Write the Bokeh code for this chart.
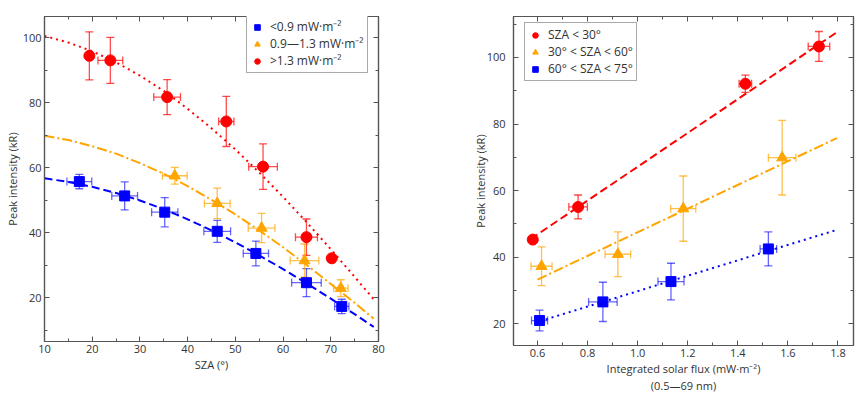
from bokeh.plotting import figure
from bokeh.models import (Range1d, FixedTicker, LinearAxis, ColumnDataSource, Whisker,
                          TeeHead, Legend, LegendItem, CustomJSTickFormatter, Title)
from bokeh.layouts import row
from bokeh.embed import file_html
from bokeh.resources import INLINE

# ---------------- data: left panel (SZA vs peak intensity) ----------------
sza_low = [17.3, 26.8, 35.2, 46.2, 54.3, 64.9, 72.3]
int_low = [55.7, 51.3, 46.3, 40.4, 33.6, 24.6, 17.3]
sza_err_low = [2.6, 2.7, 2.75, 2.8, 2.65, 3.1, 1.5]
int_err_low = [2.2, 4.3, 4.5, 3.4, 3.8, 4.3, 2.2]

sza_mid = [37.3, 46.2, 55.5, 64.5, 72.1]
int_mid = [57.5, 49.0, 41.4, 31.4, 22.9]
sza_err_mid = [2.6, 2.7, 2.8, 3.0, 1.5]
int_err_mid = [2.6, 4.7, 4.5, 5.1, 2.6]

sza_high = [19.4, 23.8, 35.7, 48.1, 55.8, 64.9, 70.2]
int_high = [94.4, 93.0, 81.7, 74.2, 60.3, 38.6, 32.1]
sza_err_high = [0.0, 2.6, 2.8, 1.6, 3.0, 2.3, 0.0]
int_err_high = [7.4, 7.1, 5.4, 7.7, 7.0, 5.6, 0.0]

fit_sza = [10, 15, 20, 25, 30, 35, 40, 45, 50, 55, 60, 65, 70, 75, 79]
fit_low = [56.7, 55.6, 54.1, 52.2, 49.9, 47.2, 44.1, 40.7, 37.0, 33.0, 28.8, 24.3, 19.7, 14.9, 11.0]
fit_mid = [69.8, 68.5, 66.6, 64.3, 61.4, 58.1, 54.3, 50.1, 45.6, 40.7, 35.5, 30.0, 24.2, 18.4, 13.5]
fit_high = [100.5, 98.5, 95.8, 92.4, 88.3, 83.6, 78.1, 72.1, 65.6, 58.5, 51.0, 43.1, 34.9, 26.4, 19.5]

left_labels = ["<0.9 mW\u00b7m\u207b\u00b2", "0.9\u20141.3 mW\u00b7m\u207b\u00b2", ">1.3 mW\u00b7m\u207b\u00b2"]
left_xticks = [10, 20, 30, 40, 50, 60, 70, 80]
left_xminor = [15, 25, 35, 45, 55, 65, 75]
left_yticks = [20, 40, 60, 80, 100]
left_yminor = [10, 30, 50, 70, 90]

# ---------------- data: right panel (solar flux vs peak intensity) ----------------
flux_s30 = [0.581, 0.762, 1.430, 1.724]
int_s30 = [45.3, 55.1, 92.1, 103.3]
flux_err_s30 = [0.0, 0.037, 0.025, 0.043]
int_err_s30 = [0.0, 3.6, 2.6, 4.5]

flux_s60 = [0.616, 0.921, 1.182, 1.577]
int_s60 = [37.3, 40.9, 54.6, 69.9]
flux_err_s60 = [0.042, 0.051, 0.050, 0.055]
int_err_s60 = [5.8, 6.7, 9.8, 11.2]

flux_s75 = [0.608, 0.861, 1.133, 1.522]
int_s75 = [21.0, 26.6, 32.7, 42.5]
flux_err_s75 = [0.032, 0.057, 0.052, 0.033]
int_err_s75 = [3.1, 5.9, 5.5, 5.1]

fit_s30_x = [0.573, 1.80]
fit_s30_y = [45.5, 107.8]
fit_s60_x = [0.60, 1.796]
fit_s60_y = [33.3, 75.8]
fit_s75_x = [0.61, 1.79]
fit_s75_y = [20.8, 48.1]

right_labels = ["SZA < 30\u00b0", "30\u00b0 < SZA < 60\u00b0", "60\u00b0 < SZA < 75\u00b0"]
right_xlabel = "Integrated solar flux (mW\u00b7m\u207b\u00b2)"
right_xlabel2 = "(0.5\u201469 nm)"
right_xticks = [0.6, 0.8, 1.0, 1.2, 1.4, 1.6, 1.8]
right_xminor = [0.5, 0.7, 0.9, 1.1, 1.3, 1.5, 1.7]
right_yticks = [20, 40, 60, 80, 100]
right_yminor = [10, 30, 50, 70, 90, 110]

BLUE = "#0000ff"
ORANGE = "#ffa500"
RED = "#ff0000"
FONT = "Open Sans"
TXT = "#333333"
FRAME = "#555555"


def style_axis(ax, show_labels=True):
    ax.axis_line_color = FRAME
    ax.axis_line_width = 1.2
    ax.major_tick_line_color = FRAME
    ax.minor_tick_line_color = FRAME
    ax.major_tick_in = 5
    ax.major_tick_out = 0
    ax.minor_tick_in = 3
    ax.minor_tick_out = 0
    ax.major_label_text_font = FONT
    ax.major_label_text_color = TXT
    ax.axis_label_text_font = FONT
    ax.axis_label_text_color = TXT
    ax.axis_label_text_font_style = "normal"
    ax.axis_label_text_font_size = "11px"
    if show_labels:
        ax.major_label_text_font_size = "11px"
        ax.major_label_standoff = 3
        ax.axis_label_standoff = 1
    else:
        ax.major_label_text_font_size = "1px"
        ax.major_label_text_color = None
        ax.major_label_standoff = 0


def make_fig(fw, fh, bl, br, bt, bb, xr, yr, xt, xm, yt, ym, xlabel, ylabel, xfmt=None):
    p = figure(frame_width=fw, frame_height=fh, min_border_left=bl, min_border_right=br,
               min_border_top=bt, min_border_bottom=bb, x_range=Range1d(*xr), y_range=Range1d(*yr),
               output_backend="svg", toolbar_location=None, x_axis_location=None, y_axis_location=None)
    p.grid.visible = False
    p.outline_line_color = FRAME
    p.outline_line_width = 1.2
    p.background_fill_color = "white"
    p.border_fill_color = "white"
    for loc, dim in (("below", "x"), ("above", "x"), ("left", "y"), ("right", "y")):
        tk = FixedTicker(ticks=xt if dim == "x" else yt, minor_ticks=xm if dim == "x" else ym)
        ax = LinearAxis(ticker=tk)
        shown = loc in ("below", "left")
        style_axis(ax, shown)
        if shown:
            ax.axis_label = xlabel if dim == "x" else ylabel
        if dim == "x" and xfmt is not None:
            ax.formatter = xfmt
        p.add_layout(ax, loc)
    return p


def add_errors(p, xs, ys, xe, ye, color, alpha):
    vx = [x for x, e in zip(xs, ye) if e > 0]
    vy = [y for y, e in zip(ys, ye) if e > 0]
    ve = [e for e in ye if e > 0]
    src_v = ColumnDataSource(dict(x=vx, lo=[a - b for a, b in zip(vy, ve)], hi=[a + b for a, b in zip(vy, ve)]))
    hx = [x for x, e in zip(xs, xe) if e > 0]
    hy = [y for y, e in zip(ys, xe) if e > 0]
    he = [e for e in xe if e > 0]
    src_h = ColumnDataSource(dict(y=hy, lo=[a - b for a, b in zip(hx, he)], hi=[a + b for a, b in zip(hx, he)]))
    for src, base, dim in ((src_v, "x", "height"), (src_h, "y", "width")):
        w = Whisker(source=src, base=base, lower="lo", upper="hi", dimension=dim,
                    line_color=color, line_alpha=alpha, line_width=1.3,
                    upper_head=TeeHead(size=8, line_color=color, line_alpha=alpha, line_width=1.3),
                    lower_head=TeeHead(size=8, line_color=color, line_alpha=alpha, line_width=1.3))
        p.add_layout(w)


def make_legend(p, items, loc):
    lg = Legend(items=items, location=loc, padding=3, spacing=0, margin=0,
                label_text_font=FONT, label_text_font_size="12px", label_text_color=TXT,
                label_height=14, glyph_height=14, glyph_width=14, label_standoff=6,
                border_line_color=FRAME, border_line_width=1, background_fill_alpha=1.0)
    p.add_layout(lg)


# ---------------- left panel ----------------
p1 = make_fig(334, 325, 44, 62, 16, 51, (10, 80), (6.5, 106.5),
              left_xticks, left_xminor, left_yticks, left_yminor,
              "SZA (\u00b0)", "Peak intensity (kR)")
p1.yaxis[0].axis_label_standoff = 0
p1.xaxis[0].major_label_standoff = 5
p1.xaxis[0].axis_label_standoff = 0

p1.line(fit_sza, fit_high, line_color=RED, line_width=2, line_dash="2 4")
p1.line(fit_sza, fit_mid, line_color=ORANGE, line_width=2, line_dash="10 3 2 3")
p1.line(fit_sza, fit_low, line_color=BLUE, line_width=2, line_dash="8 4")

add_errors(p1, sza_low, int_low, sza_err_low, int_err_low, BLUE, 0.6)
add_errors(p1, sza_mid, int_mid, sza_err_mid, int_err_mid, ORANGE, 0.7)
add_errors(p1, sza_high, int_high, sza_err_high, int_err_high, RED, 0.7)

r_low = p1.scatter(sza_low, int_low, marker="square", size=10, color=BLUE)
r_mid = p1.scatter(sza_mid, int_mid, marker="triangle", size=11, color=ORANGE)
r_high = p1.scatter(sza_high, int_high, marker="circle", size=11, color=RED)

make_legend(p1, [LegendItem(label=left_labels[0], renderers=[r_low]),
                 LegendItem(label=left_labels[1], renderers=[r_mid]),
                 LegendItem(label=left_labels[2], renderers=[r_high])], (202, 268))

# ---------------- right panel ----------------
fmt = CustomJSTickFormatter(code="return tick.toFixed(1);")
p2 = make_fig(340, 329, 73, 8, 16, 47, (0.504, 1.862), (13.5, 112.3),
              right_xticks, right_xminor, right_yticks, right_yminor,
              right_xlabel, "Peak intensity (kR)", xfmt=fmt)
p2.yaxis[0].major_label_standoff = 8
p2.yaxis[0].axis_label_standoff = -4
p2.xaxis[0].major_label_standoff = 6
p2.xaxis[0].axis_label_standoff = 1
p2.add_layout(Title(text=right_xlabel2, align="center", text_font=FONT, text_font_size="11px",
                    text_font_style="normal", text_color=TXT, standoff=-6, offset=0), "below")

p2.line(fit_s30_x, fit_s30_y, line_color=RED, line_width=2, line_dash="8 4")
p2.line(fit_s60_x, fit_s60_y, line_color=ORANGE, line_width=2, line_dash="10 3 2 3")
p2.line(fit_s75_x, fit_s75_y, line_color=BLUE, line_width=2, line_dash="2 4")

add_errors(p2, flux_s30, int_s30, flux_err_s30, int_err_s30, RED, 0.7)
add_errors(p2, flux_s60, int_s60, flux_err_s60, int_err_s60, ORANGE, 0.7)
add_errors(p2, flux_s75, int_s75, flux_err_s75, int_err_s75, BLUE, 0.6)

q30 = p2.scatter(flux_s30, int_s30, marker="circle", size=11, color=RED)
q60 = p2.scatter(flux_s60, int_s60, marker="triangle", size=11, color=ORANGE)
q75 = p2.scatter(flux_s75, int_s75, marker="square", size=10, color=BLUE)

make_legend(p2, [LegendItem(label=right_labels[0], renderers=[q30]),
                 LegendItem(label=right_labels[1], renderers=[q60]),
                 LegendItem(label=right_labels[2], renderers=[q75])], (11, 264))

layout = row(p1, p2)
open("out.html", "w").write(file_html(layout, INLINE))
